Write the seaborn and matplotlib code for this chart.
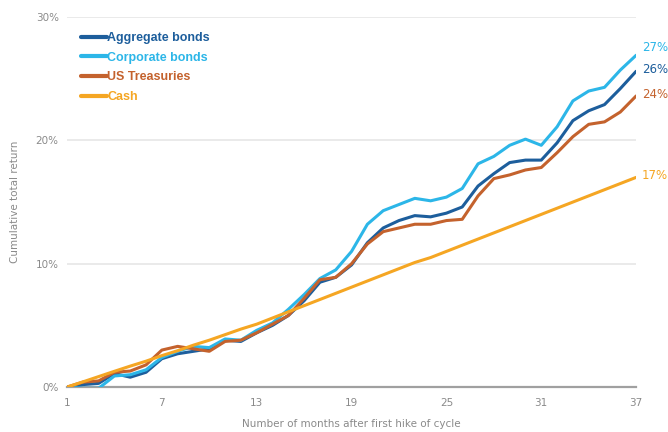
import numpy as np
import pandas as pd
import matplotlib
matplotlib.use("Agg")
import matplotlib.pyplot as plt
import seaborn as sns

months = list(range(1, 38))

aggregate = [0.0, 0.2, 0.3, 1.1, 0.8, 1.2, 2.3, 2.7, 2.9, 3.1, 3.8, 3.7, 4.4,
             5.0, 5.8, 7.0, 8.5, 8.9, 9.9, 11.7, 12.9, 13.5, 13.9, 13.8, 14.1,
             14.6, 16.3, 17.3, 18.2, 18.4, 18.4, 19.8, 21.6, 22.4, 22.9, 24.2, 25.6]
corporate = [0.0, -0.1, -0.1, 0.9, 1.0, 1.4, 2.4, 2.9, 3.3, 3.2, 3.9, 3.8, 4.6,
             5.2, 6.3, 7.5, 8.8, 9.5, 11.0, 13.2, 14.3, 14.8, 15.3, 15.1, 15.4,
             16.1, 18.1, 18.7, 19.6, 20.1, 19.6, 21.1, 23.2, 24.0, 24.3, 25.7, 26.9]
treasuries = [0.0, 0.4, 0.5, 1.2, 1.3, 1.8, 3.0, 3.3, 3.1, 2.9, 3.7, 3.8, 4.4,
              5.1, 5.8, 7.2, 8.7, 8.9, 10.0, 11.6, 12.6, 12.9, 13.2, 13.2, 13.5,
              13.6, 15.5, 16.9, 17.2, 17.6, 17.8, 19.0, 20.3, 21.3, 21.5, 22.3, 23.6]
cash = [0.0, 0.42, 0.85, 1.28, 1.7, 2.1, 2.55, 2.95, 3.4, 3.8, 4.25, 4.7, 5.1,
        5.6, 6.1, 6.6, 7.1, 7.6, 8.1, 8.6, 9.1, 9.6, 10.1, 10.5, 11.0, 11.5,
        12.0, 12.5, 13.0, 13.5, 14.0, 14.5, 15.0, 15.5, 16.0, 16.5, 17.0]

series_names = ["Aggregate bonds", "Corporate bonds", "US Treasuries", "Cash"]
series_values = [aggregate, corporate, treasuries, cash]
colors = ["#1d5e9c", "#2cb6e8", "#c4622d", "#f5a623"]
end_labels = ["26%", "27%", "24%", "17%"]
x_ticks = [1, 7, 13, 19, 25, 31, 37]
y_ticks = [0, 10, 20, 30]

df = pd.DataFrame(
    [(m, v, name) for name, vals in zip(series_names, series_values)
     for m, v in zip(months, vals)],
    columns=["month", "value", "series"],
)

sns.set_style("white")
narrow = ["Liberation Sans Narrow", "DejaVu Sans"]
plt.rcParams["font.family"] = narrow

fig = plt.figure(figsize=(6.68, 4.32), dpi=100)
ax = fig.add_axes([0.1003, 0.104, 0.852, 0.8566])

palette = dict(zip(series_names, colors))
sns.lineplot(data=df, x="month", y="value", hue="series", hue_order=series_names,
             palette=palette, linewidth=2.2, ax=ax, legend=True)

ax.set_xlim(1, 37)
ax.set_ylim(0, 30)
ax.set_xticks(x_ticks)
ax.set_yticks(y_ticks)
ax.set_yticklabels([f"{t}%" for t in y_ticks])
ax.tick_params(axis="both", length=0, labelsize=7.5, labelcolor="#8a8a8a")
ax.tick_params(axis="x", pad=8)
ax.tick_params(axis="y", pad=6)
for lbl in ax.get_xticklabels() + ax.get_yticklabels():
    lbl.set_family(narrow)

for y in y_ticks[1:]:
    ax.axhline(y, color="#e6e6e6", linewidth=1.2, zorder=0)
for side in ["top", "right", "left"]:
    ax.spines[side].set_visible(False)
ax.spines["bottom"].set_color("#a0a0a0")
ax.spines["bottom"].set_linewidth(1.6)
ax.spines["bottom"].set_zorder(0.5)

ax.set_xlabel("Number of months after first hike of cycle", fontsize=7.5,
              color="#8a8a8a", labelpad=8)
ax.set_ylabel("Cumulative total return", fontsize=7.5, color="#8a8a8a",
              labelpad=11)

# end-of-line value labels
for vals, lab, col in zip(series_values, end_labels, colors):
    ax.annotate(lab, xy=(months[-1], vals[-1]), xytext=(4, 1),
                textcoords="offset points", color=col, fontsize=8.5,
                va="bottom" if lab == "27%" else "center", ha="left",
                annotation_clip=False)

leg = ax.legend(loc="upper left", bbox_to_anchor=(0.005, 0.99), frameon=False,
                handlelength=2.1, handletextpad=0.0, labelspacing=0.62,
                prop={"family": ["Liberation Sans", "DejaVu Sans"],
                      "weight": "bold", "size": 9})
for txt, col in zip(leg.get_texts(), colors):
    txt.set_color(col)
for line in leg.get_lines():
    line.set_linewidth(3)

fig.savefig("out.png", dpi=100)
